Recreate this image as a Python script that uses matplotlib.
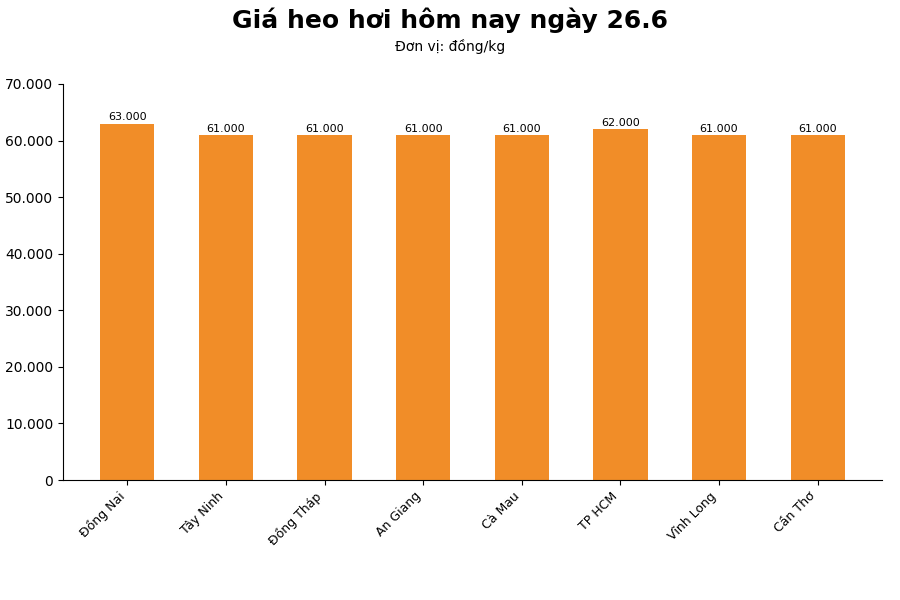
import matplotlib
matplotlib.use('Agg')
import matplotlib.pyplot as plt
from matplotlib.ticker import FuncFormatter

provinces = ['Đồng Nai', 'Tây Ninh', 'Đồng Tháp', 'An Giang', 'Cà Mau', 'TP HCM', 'Vĩnh Long', 'Cần Thơ']
prices = [63000, 61000, 61000, 61000, 61000, 62000, 61000, 61000]

def dot_thousands(v, pos=None):
    return '{:,.0f}'.format(v).replace(',', '.')

fig = plt.figure(figsize=(9, 6), dpi=100)
ax = fig.add_axes([0.07, 0.2, 0.91, 0.66])

bars = ax.bar(range(len(provinces)), prices, width=0.55, color='#F18D28')
for b, v in zip(bars, prices):
    ax.text(b.get_x() + b.get_width() / 2, v + 200, dot_thousands(v),
            ha='center', va='bottom', fontsize=8)

ax.set_ylim(0, 70000)
ax.yaxis.set_major_formatter(FuncFormatter(dot_thousands))
ax.set_xticks(range(len(provinces)))
ax.set_xticklabels(provinces, rotation=45, ha='right', fontsize=9)
ax.spines['top'].set_visible(False)
ax.spines['right'].set_visible(False)

fig.text(0.5, 0.967, 'Giá heo hơi hôm nay ngày 26.6', ha='center', va='center',
         fontsize=18, fontweight='bold')
fig.text(0.5, 0.923, 'Đơn vị: đồng/kg', ha='center', va='center', fontsize=10)

fig.savefig('out.png', dpi=100)
